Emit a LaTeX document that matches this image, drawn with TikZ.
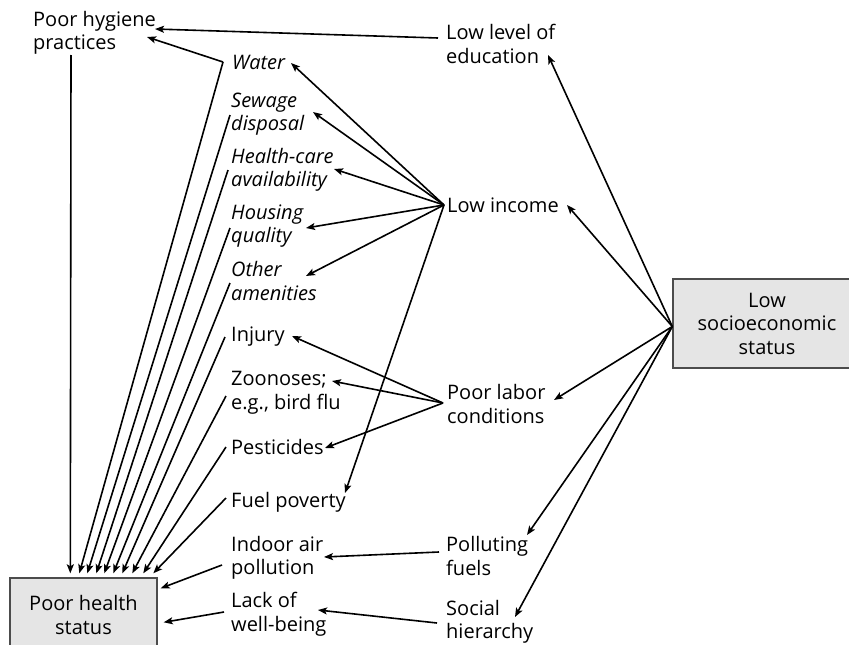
\documentclass[tikz,border=0pt]{standalone}
\usepackage{fontspec}
\setmainfont{Open Sans}
\usetikzlibrary{arrows.meta,calc}

\begin{document}
\begin{tikzpicture}[x=1pt,y=-1pt,
  every node/.style={font=\fontsize{20}{23.5}\selectfont},
  lbl/.style={anchor=west,align=left,inner sep=2pt},
  ital/.style={lbl,font=\fontsize{20}{23.5}\selectfont\itshape},
  box/.style={draw=black!70,line width=1.4pt,fill=black!10,align=center,inner sep=2pt},
  arr/.style={line width=1.6pt,-{Stealth[length=9pt,width=7pt,inset=2pt]}}]
\clip (0,0) rectangle (849,645);

% outcome and root boxes
\node[box,minimum width=147pt,minimum height=74pt] (health) at (83.5,615) {Poor health\\status};
\node[box,minimum width=188pt,minimum height=89pt] (ses) at (767,323.5) {Low\\socioeconomic\\status};

% intermediate factors
\node[lbl] (hyg) at (31,33) {Poor hygiene\\practices};
\node[lbl] (edu) at (444,44) {Low level of\\education};
\node[lbl] (lowinc) at (445,205) {Low income};
\node[lbl] (labor) at (445,404) {Poor labor\\conditions};
\node[lbl] (pollut) at (444,556) {Polluting\\fuels};
\node[lbl] (social) at (444,622) {Social\\hierarchy};

\node[ital] (water) at (230,62) {Water};
\node[ital] (sewage) at (229,114) {Sewage\\disposal};
\node[ital] (hcare) at (229,170) {Health-care\\availability};
\node[ital] (housing) at (229,226) {Housing\\quality};
\node[ital] (other) at (229,281) {Other\\amenities};

\node[lbl] (injury) at (229,337) {Injury};
\node[lbl] (zoo) at (229,393) {Zoonoses;\\e.g., bird flu};
\node[lbl] (pest) at (229,447) {Pesticides};
\node[lbl] (fuel) at (229,502) {Fuel poverty};
\node[lbl] (indoor) at (229,558) {Indoor air\\pollution};
\node[lbl] (lack) at (229,614) {Lack of\\well-being};

% low socioeconomic status fans out
\draw[arr] ($(ses.west)+(0,3)$) -- ($(edu.west)+(104,11)$);
\draw[arr] ($(ses.west)+(0,3)$) -- ($(lowinc.west)+(122,0)$);
\draw[arr] ($(ses.west)+(0,3)$) -- ($(labor.west)+(109,-4)$);
\draw[arr] ($(ses.west)+(0,3)$) -- ($(pollut.west)+(83,-21)$);
\draw[arr] ($(ses.west)+(0,3)$) -- ($(social.west)+(71,-5)$);

% education -> hygiene
\draw[arr] ($(edu.west)+(-6,-6)$) -- ($(hyg.west)+(124,-4)$);

% income -> amenities and fuel poverty
\draw[arr] ($(lowinc.west)+(-1,0)$) -- ($(water.west)+(61,1)$);
\draw[arr] ($(lowinc.west)+(-1,0)$) -- ($(sewage.west)+(84,-2)$);
\draw[arr] ($(lowinc.west)+(-1,0)$) -- ($(hcare.west)+(105,-1)$);
\draw[arr] ($(lowinc.west)+(-1,0)$) -- ($(housing.west)+(77,2)$);
\draw[arr] ($(lowinc.west)+(-1,0)$) -- ($(other.west)+(77,-5)$);
\draw[arr] ($(lowinc.west)+(-1,0)$) -- ($(fuel.west)+(116,-9)$);

% labor conditions
\draw[arr] ($(labor.west)+(-2,-1)$) -- ($(injury.west)+(63,-1)$);
\draw[arr] ($(labor.west)+(-2,-1)$) -- ($(zoo.west)+(103,-12)$);
\draw[arr] ($(labor.west)+(-2,-1)$) -- ($(pest.west)+(96,1)$);

% fuels and hierarchy
\draw[arr] ($(pollut.west)+(-5,-4)$) -- ($(indoor.west)+(95,-1)$);
\draw[arr] ($(social.west)+(-7,1)$) -- ($(lack.west)+(89,-4)$);

% water also feeds hygiene
\draw[arr] ($(water.west)+(-7,0)$) -- ($(hyg.west)+(116,4)$);

% everything converges on poor health status
\draw[arr] ($(hyg.west)+(40,22)$) -- ($(health.north west)+(61,-4)$);
\draw[arr] ($(water.west)+(-7,0)$) -- ($(health.north west)+(70,-4)$);
\draw[arr] ($(sewage.west)+(1,1)$) -- ($(health.north west)+(78,-4)$);
\draw[arr] ($(hcare.west)+(-1,0)$) -- ($(health.north west)+(87,-4)$);
\draw[arr] ($(housing.west)+(1,2)$) -- ($(health.north west)+(95,-4)$);
\draw[arr] ($(other.west)+(1,2)$) -- ($(health.north west)+(104,-4)$);
\draw[arr] ($(injury.west)+(-4,0)$) -- ($(health.north west)+(113,-4)$);
\draw[arr] ($(zoo.west)+(-3,3)$) -- ($(health.north west)+(123,-4)$);
\draw[arr] ($(pest.west)+(-3,0)$) -- ($(health.north west)+(134,-4)$);
\draw[arr] ($(fuel.west)+(-3,-4)$) -- ($(health.north west)+(144,-4)$);
\draw[arr] ($(indoor.west)+(-7,7)$) -- ($(health.north east)+(3,11)$);
\draw[arr] ($(lack.west)+(-5,-2)$) -- ($(health.north east)+(6,45)$);
\end{tikzpicture}
\end{document}
